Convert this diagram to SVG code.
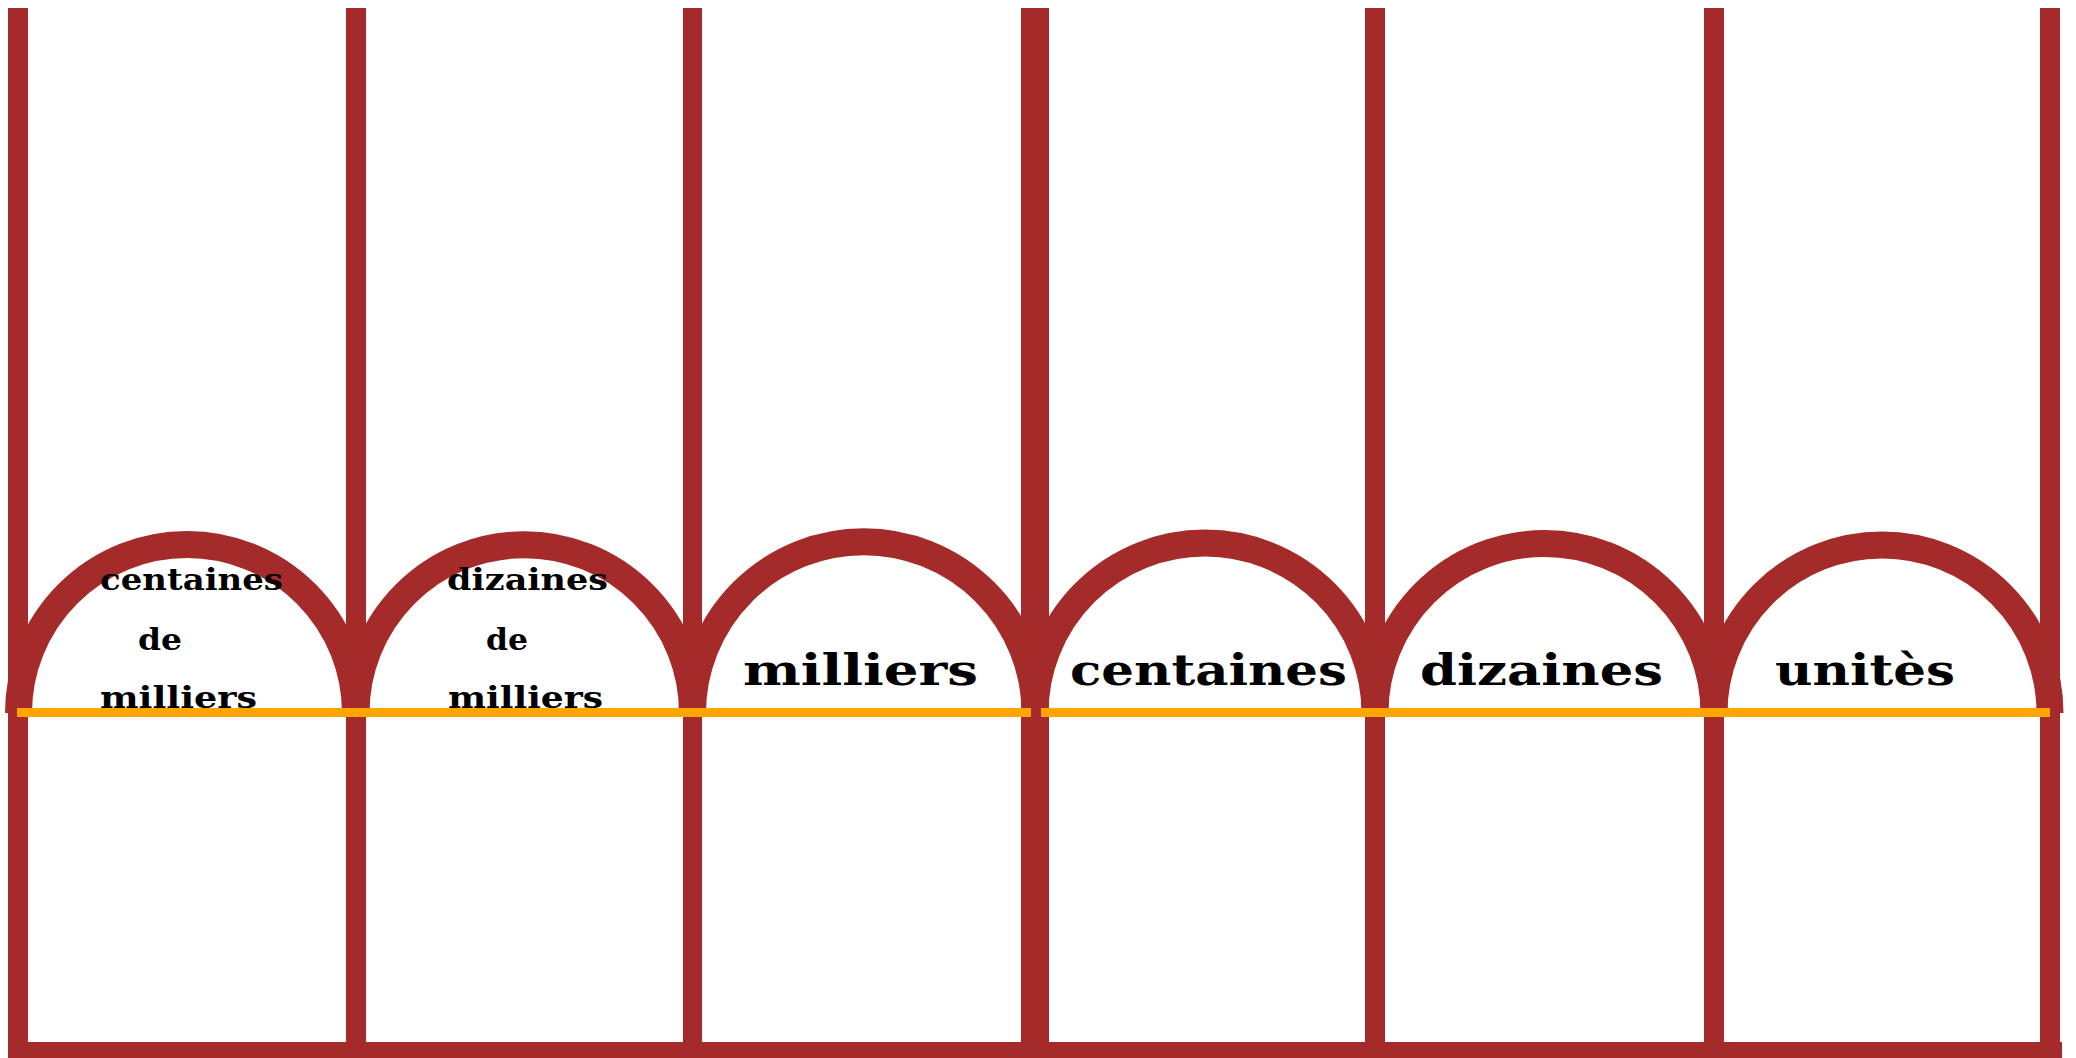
<svg xmlns="http://www.w3.org/2000/svg" width="2076" height="1058" viewBox="0 0 2076 1058">
<style>
.post{fill:#A52A2A}
.arch{fill:none;stroke:#A52A2A;stroke-width:27}
.base{stroke:#FFA500;stroke-width:9}
.big{font-family:"DejaVu Serif","Liberation Serif",serif;font-weight:bold;font-size:42px;fill:#000}
.small{font-family:"DejaVu Serif","Liberation Serif",serif;font-weight:bold;font-size:29px;fill:#000}
</style>
<rect width="2076" height="1058" fill="#fff"/>
<g id="arches">
<path class="arch" d="M18.5,713 A168.5,168.5 0 0 1 355.5,713"/>
<path class="arch" d="M356,713 A168.25,168.25 0 0 1 692.5,713"/>
<path class="arch" d="M692.5,713 A171.25,171.25 0 0 1 1035,713"/>
<path class="arch" d="M1035,713 A170,170 0 0 1 1375,713"/>
<path class="arch" d="M1375,713 A169.5,169.5 0 0 1 1714,713"/>
<path class="arch" d="M1714,713 A168,168 0 0 1 2050,713"/>
</g>
<g id="posts">
<rect class="post" x="8" y="8" width="20" height="1050"/>
<rect class="post" x="346" y="8" width="20" height="1050"/>
<rect class="post" x="683" y="8" width="19" height="1050"/>
<rect class="post" x="1021" y="8" width="28" height="1050"/>
<rect class="post" x="1365" y="8" width="20" height="1050"/>
<rect class="post" x="1704" y="8" width="20" height="1050"/>
<rect class="post" x="2040" y="8" width="20" height="1050"/>
<rect class="post" x="8" y="1042" width="2054" height="16"/>
</g>
<g id="baseline">
<line class="base" x1="17" y1="712.5" x2="1031" y2="712.5"/>
<line class="base" x1="1041" y1="712.5" x2="2050" y2="712.5"/>
</g>
<g id="col1">
<text class="small" x="100" y="590" textLength="183" lengthAdjust="spacingAndGlyphs">centaines</text>
<text class="small" x="138" y="650" textLength="44" lengthAdjust="spacingAndGlyphs">de</text>
<text class="small" x="100" y="708" textLength="157" lengthAdjust="spacingAndGlyphs">milliers</text>
</g>
<g id="col2">
<text class="small" x="447" y="590" textLength="161" lengthAdjust="spacingAndGlyphs">dizaines</text>
<text class="small" x="486" y="650" textLength="42" lengthAdjust="spacingAndGlyphs">de</text>
<text class="small" x="448" y="708" textLength="155" lengthAdjust="spacingAndGlyphs">milliers</text>
</g>
<g id="col3">
<text class="big" x="743" y="685" textLength="235" lengthAdjust="spacingAndGlyphs">milliers</text>
</g>
<g id="col4">
<text class="big" x="1070" y="685" textLength="277" lengthAdjust="spacingAndGlyphs">centaines</text>
</g>
<g id="col5">
<text class="big" x="1420" y="685" textLength="243" lengthAdjust="spacingAndGlyphs">dizaines</text>
</g>
<g id="col6">
<text class="big" x="1775" y="685" textLength="180" lengthAdjust="spacingAndGlyphs">unitès</text>
</g>
</svg>
